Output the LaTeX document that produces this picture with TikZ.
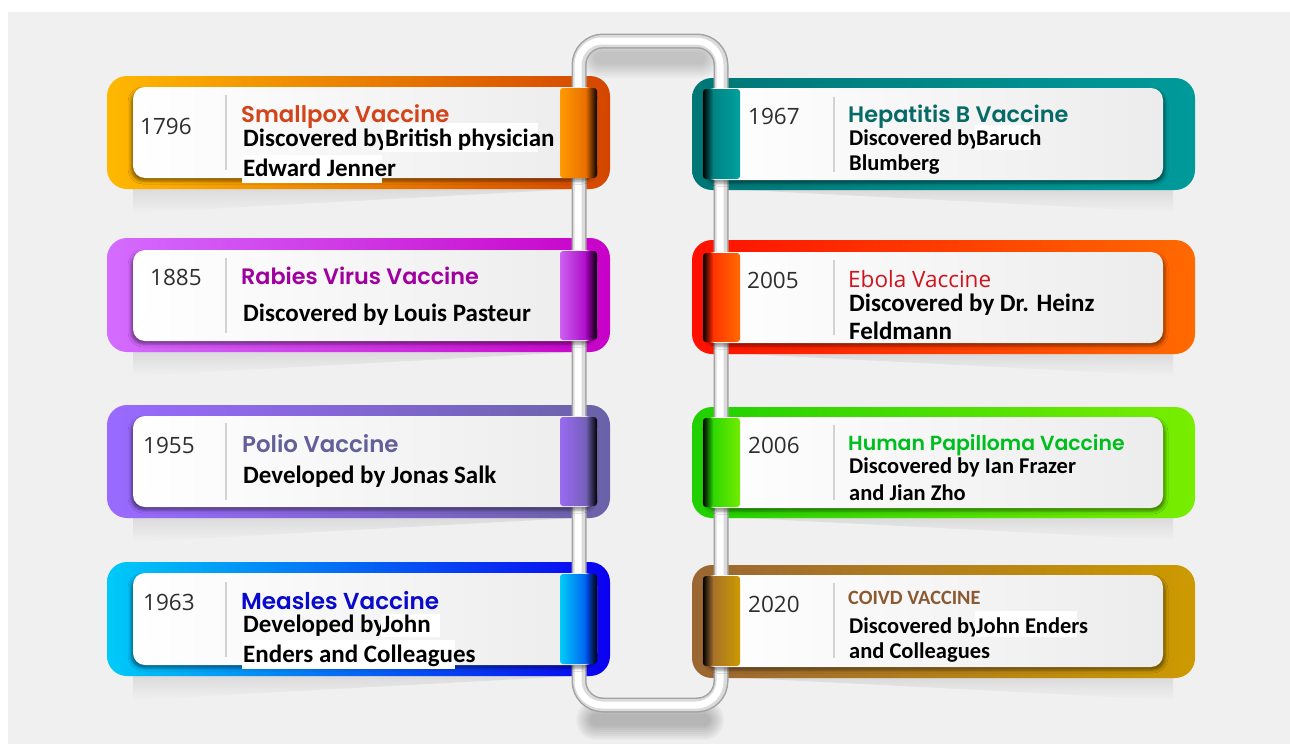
\documentclass[tikz,border=0pt]{standalone}
\usepackage{fontspec}
\setmainfont{Carlito}
\newfontfamily\yearfont{Open Sans}
\newfontfamily\titlefont{Poppins}[BoldFont={Poppins SemiBold}]
\newfontfamily\plainfont{Open Sans}
\usetikzlibrary{shadows.blur}

\definecolor{bg}{HTML}{F0F0F0}
\definecolor{yeargray}{HTML}{2E2E2E}
\definecolor{sepgray}{HTML}{D2D2D2}
\definecolor{cardend}{HTML}{ECECEC}
% ribbon colours
\definecolor{aA}{HTML}{FFB800}\definecolor{aB}{HTML}{D44600}\definecolor{aT}{HTML}{FF9A00}\definecolor{aU}{HTML}{E46800}\definecolor{aH}{HTML}{D2441A}
\definecolor{bA}{HTML}{D46CFF}\definecolor{bB}{HTML}{C800C8}\definecolor{bT}{HTML}{CC60F2}\definecolor{bU}{HTML}{A800C0}\definecolor{bH}{HTML}{A0009F}
\definecolor{cA}{HTML}{9A6AFF}\definecolor{cB}{HTML}{6A62A8}\definecolor{cT}{HTML}{9A6AF2}\definecolor{cU}{HTML}{6E5EB0}\definecolor{cH}{HTML}{625F9A}
\definecolor{dA}{HTML}{00CAF8}\definecolor{dB}{HTML}{0A00F0}\definecolor{dT}{HTML}{00CCF8}\definecolor{dU}{HTML}{0050F0}\definecolor{dH}{HTML}{0A0ACC}
\definecolor{eA}{HTML}{007676}\definecolor{eB}{HTML}{009A9A}\definecolor{eT}{HTML}{007E7E}\definecolor{eU}{HTML}{00A0A0}\definecolor{eH}{HTML}{066A66}
\definecolor{fA}{HTML}{FF1000}\definecolor{fB}{HTML}{FF6A00}\definecolor{fT}{HTML}{FF2A00}\definecolor{fU}{HTML}{FF6A00}\definecolor{fH}{HTML}{D0141E}
\definecolor{gA}{HTML}{20D000}\definecolor{gB}{HTML}{78EE00}\definecolor{gT}{HTML}{24D400}\definecolor{gU}{HTML}{72EC00}\definecolor{gH}{HTML}{00BE1E}
\definecolor{hA}{HTML}{9A6634}\definecolor{hB}{HTML}{CC9A00}\definecolor{hT}{HTML}{A06A30}\definecolor{hU}{HTML}{CC9A00}\definecolor{hH}{HTML}{8A5A32}

\tikzset{
  outercard/.style={rounded corners=20},
  innerleft/.style={rounded corners=12, left color=white, right color=cardend,
    blur shadow={shadow xshift=-2pt, shadow yshift=-3pt, shadow blur radius=3pt, shadow opacity=45}},
  innerright/.style={rounded corners=12, left color=white, right color=cardend,
    blur shadow={shadow xshift=2pt, shadow yshift=-3pt, shadow blur radius=3pt, shadow opacity=45}},
  tabbox/.style={rounded corners=3},
  seprule/.style={draw=sepgray, line width=1.6},
  floor/.style={top color=black!14, bottom color=bg},
  whitebox/.style={fill=white},
  yeartext/.style={font=\yearfont\fontsize{22.5}{24}\selectfont, text=yeargray, inner sep=0, anchor=base west},
  titletext/.style={font=\titlefont\bfseries\fontsize{#1}{24}\selectfont, inner sep=0, anchor=base west},
  titletext/.default=22.6,
  bodytext/.style={font=\bfseries\fontsize{25}{26}\selectfont, text=black, inner sep=0, anchor=base west},
  smallbody/.style={bodytext, font=\bfseries\fontsize{22.5}{24}\selectfont},
  pipeedge/.style={line width=15, draw=black!36},
  pipemid/.style={line width=12, draw=black!14},
  pipecore/.style={line width=7, draw=white},
}

\begin{document}
\begin{tikzpicture}[x=1pt, y=-1pt]
% page and panel
\fill[white] (0,0) rectangle (1290,744);
\fill[bg] (8,12) rectangle (1290,744);
\useasboundingbox (0,0) rectangle (1290,744);

% soft shadows of the loop
\foreach \w in {40,36,32,28,24,20,16,12} {
  \draw[line width=\w, line cap=round, black, opacity=0.025] (600,58) -- (700,58);
  \draw[line width=\w, line cap=round, black, opacity=0.03] (596,720) -- (704,720);
}

% floor shadows under the ribbons
\shade[floor] (133,189) -- (575,189) -- (133,213) -- cycle;
\shade[floor] (133,352) -- (575,352) -- (133,376) -- cycle;
\shade[floor] (133,518) -- (575,518) -- (133,542) -- cycle;
\shade[floor] (133,676) -- (575,676) -- (133,700) -- cycle;
\shade[floor] (1173,190) -- (745,190) -- (1173,212) -- cycle;
\shade[floor] (1173,354) -- (745,354) -- (1173,376) -- cycle;
\shade[floor] (1173,518) -- (745,518) -- (1173,540) -- cycle;
\shade[floor] (1173,678) -- (745,678) -- (1173,700) -- cycle;

% coloured ribbons
\shade[outercard, left color=aA, right color=aB] (107,76) rectangle (610,189);
\shade[outercard, left color=bA, right color=bB] (107,238) rectangle (610,352);
\shade[outercard, left color=cA, right color=cB] (107,405) rectangle (610,518);
\shade[outercard, left color=dA, right color=dB] (107,562) rectangle (610,676);
\shade[outercard, left color=eA, right color=eB] (692,78) rectangle (1195,190);
\shade[outercard, left color=fA, right color=fB] (692,240) rectangle (1195,354);
\shade[outercard, left color=gA, right color=gB] (692,407) rectangle (1195,518);
\shade[outercard, left color=hA, right color=hB] (692,565) rectangle (1195,678);

% the tube loop
\draw[pipeedge, rounded corners=24] (579,41) rectangle (721,705);
\draw[pipemid, rounded corners=24] (579,41) rectangle (721,705);
\draw[pipecore, rounded corners=24] (578,41) rectangle (720,705);

% white cards
\shade[innerleft] (133,87) rectangle (597,178);
\shade[innerleft] (133,250) rectangle (597,341);
\shade[innerleft] (133,416) rectangle (597,507);
\shade[innerleft] (133,573) rectangle (597,665);
\shade[innerright] (703,88) rectangle (1163,180);
\shade[innerright] (703,252) rectangle (1163,343);
\shade[innerright] (703,417) rectangle (1163,508);
\shade[innerright] (703,575) rectangle (1163,667);

% tabs wrapping the tube
\foreach \c/\t/\b in {a/88/178, b/251/340, c/417/506, d/574/664} {
  \shade[tabbox, left color=\c T, right color=\c U] (560,\t) rectangle (590,\b);
  \shade[tabbox, left color=\c U, right color=black] (586,\t) rectangle (597,\b);
}
\foreach \c/\t/\b in {e/89/179, f/253/342, g/418/507, h/576/666} {
  \shade[tabbox, left color=\c T, right color=\c U] (708,\t) rectangle (740,\b);
  \shade[tabbox, left color=black, right color=\c T] (703,\t) rectangle (713,\b);
}

% separators
\draw[seprule] (226,95) -- (226,170);
\draw[seprule] (226,258) -- (226,333);
\draw[seprule] (226,423) -- (226,500);
\draw[seprule] (226,582) -- (226,657);
\draw[seprule] (834,97) -- (834,172);
\draw[seprule] (834,260) -- (834,335);
\draw[seprule] (834,425) -- (834,500);
\draw[seprule] (834,583) -- (834,658);

% ---- Smallpox
\node[yeartext] (y1) at (140,134) {1796};
\node[titletext=22.8, text=aH] (t1) at (241,122) {Smallpox Vaccine};
\node[bodytext] (b1a) at (243,146) {Discovered by};
\fill[whitebox] (383,123) rectangle (538,152);
\node[bodytext] (b1b) at (385,146) {British physician};
\fill[whitebox] (242,155) rectangle (382,183);
\node[bodytext] (b1c) at (243,176) {Edward Jenner};

% ---- Rabies
\node[yeartext] (y2) at (150,285) {1885};
\node[titletext=22.3, text=bH] (t2) at (241,284) {Rabies Virus Vaccine};
\node[bodytext] (b2a) at (243,321) {Discovered by Louis Pasteur};

% ---- Polio
\node[yeartext] (y3) at (143,453) {1955};
\node[titletext=22.9, text=cH] (t3) at (242,452) {Polio Vaccine};
\node[bodytext] (b3a) at (243,483) {Developed by Jonas Salk};

% ---- Measles
\node[yeartext] (y4) at (143,610) {1963};
\node[titletext=23.1, text=dH] (t4) at (241,609) {Measles Vaccine};
\node[bodytext] (b4a) at (243,632) {Developed by};
\fill[whitebox] (381,614) rectangle (440,637);
\node[bodytext] (b4b) at (382,632) {John};
\fill[whitebox] (242,640) rectangle (455,669);
\node[bodytext] (b4c) at (243,662) {Enders and Colleagues};

% ---- Hepatitis B
\node[yeartext] (y5) at (748,124) {1967};
\node[titletext=22.4, text=eH] (t5) at (848,122) {Hepatitis B Vaccine};
\node[smallbody] (b5a) at (849,145) {Discovered by};
\fill[whitebox] (975,125) rectangle (1033,150);
\node[smallbody] (b5b) at (976,145) {Baruch};
\node[smallbody] (b5c) at (849,170) {Blumberg};

% ---- Ebola
\node[yeartext] (y6) at (747,288) {2005};
\node[inner sep=0, anchor=base west, text=fH, font=\plainfont\fontsize{22.5}{24}\selectfont] (t6) at (848,287) {Ebola Vaccine};
\node[bodytext] (b6a) at (849,311) {Discovered by Dr. Heinz};
\node[bodytext] (b6b) at (849,339) {Feldmann};

% ---- Human Papilloma
\node[yeartext] (y7) at (748,453) {2006};
\node[titletext=20.4, text=gH] (t7) at (848,450) {Human Papilloma Vaccine};
\node[smallbody] (b7a) at (849,473) {Discovered by Ian Frazer};
\node[smallbody] (b7b) at (849,500) {and Jian Zho};

% ---- COIVD
\node[yeartext] (y8) at (748,612) {2020};
\node[inner sep=0, anchor=base west, text=hH, font=\bfseries\fontsize{20.3}{22}\selectfont] (t8) at (848,604) {COIVD VACCINE};
\node[smallbody] (b8a) at (849,633) {Discovered by};
\fill[whitebox] (975,611) rectangle (1077,637);
\node[smallbody] (b8b) at (976,633) {John Enders};
\node[smallbody] (b8c) at (849,658) {and Colleagues};
\end{tikzpicture}
\end{document}
